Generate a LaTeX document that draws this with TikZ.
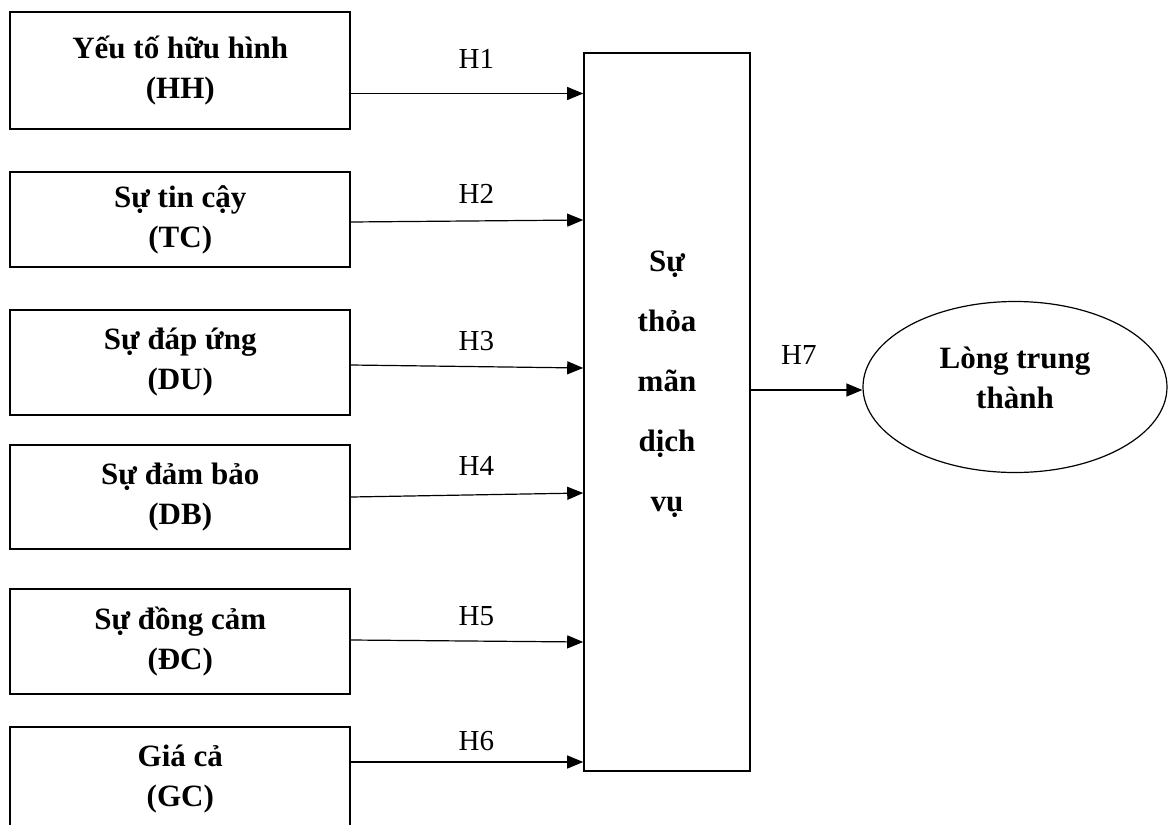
\documentclass[tikz,border=0pt]{standalone}
\usepackage{fontspec}
\setmainfont{Liberation Serif}
\usetikzlibrary{shapes,arrows.meta}
\tikzstyle{block} = [draw, line width=0.8pt, rectangle, align=center,
    font=\fontsize{15.5}{20}\selectfont\bfseries,
    minimum width=170pt, inner sep=0pt]
\tikzstyle{satbox} = [draw, line width=0.8pt, rectangle,
    minimum width=83pt, minimum height=359pt]
\tikzstyle{goal} = [draw, ellipse, inner sep=0pt,
    minimum width=152pt, minimum height=85.5pt]
\tikzstyle{bigtext} = [align=center, font=\fontsize{15.5}{20}\selectfont\bfseries]
\tikzstyle{hyp} = [font=\fontsize{14.5}{17}\selectfont, pos=0.54]

\begin{document}
\begin{tikzpicture}[x=0.5pt, y=-0.5pt, line width=0.6pt,
    >={Triangle[length=8pt,width=6.5pt]}]
\useasboundingbox (0,0) rectangle (1168,825);

\node [block, minimum height=58.5pt] (hh) at (180.25,70.5) {Yếu tố hữu hình\\(HH)};
\node [block, minimum height=47.5pt] (tc) at (180.25,219.5) {Sự tin cậy\\(TC)};
\node [block, minimum height=52.5pt] (du) at (180.25,362.5) {Sự đáp ứng\\(DU)};
\node [block, minimum height=52pt] (db) at (180.25,497) {Sự đảm bảo\\(DB)};
\node [block, minimum height=52.5pt] (dc) at (180.25,641.5) {Sự đồng cảm\\(ĐC)};
\node [block, minimum height=52.5pt] (gc) at (180.25,779.5) {Giá cả\\(GC)};

\node [satbox] (sat) at (667,412) {};
\node [bigtext, font=\fontsize{15.5}{30}\selectfont\bfseries] (satlabel)
    at (667,384.5) {Sự\\thỏa\\mãn\\dịch\\vụ};
\node [goal] (ltt) at (1015,387) {};
\node [bigtext] (lttlabel) at (1015,378) {Lòng trung\\thành};

\draw [->] ([yshift=-11.5pt]hh.east) -- node[hyp, above=9pt] {H1} ([yshift=159.25pt]sat.west);
\draw [->] ([yshift=-1.25pt]tc.east) -- node[hyp, above=5pt] {H2} ([yshift=96pt]sat.west);
\draw [->] ([yshift=-1.25pt]du.east) -- node[hyp, above=4.5pt] {H3} ([yshift=22pt]sat.west);
\draw [->] (db.east) -- node[hyp, above=6pt] {H4} ([yshift=-40.5pt]sat.west);
\draw [->] ([yshift=0.75pt]dc.east) -- node[hyp, above=4pt] {H5} ([yshift=-115pt]sat.west);
\draw [->] ([yshift=8.75pt]gc.east) -- node[hyp, above=2pt] {H6} ([yshift=-175pt]sat.west);
\draw [->] ([yshift=11pt]sat.east) -- node[hyp, above=9pt, pos=0.43] {H7} ([yshift=-1.5pt]ltt.west);

\end{tikzpicture}
\end{document}
